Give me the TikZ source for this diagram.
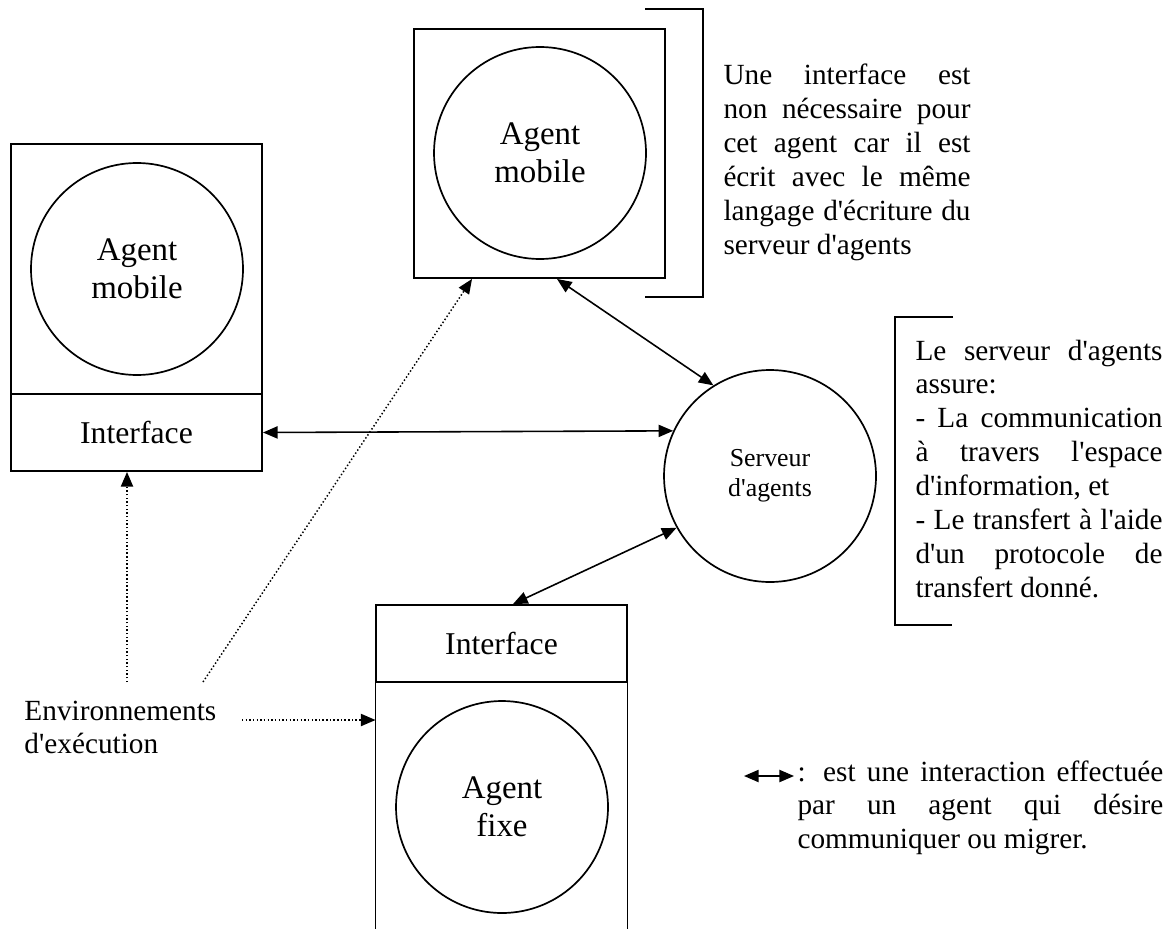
\documentclass[tikz,border=0pt]{standalone}
\usepackage{fontspec}
\setmainfont{Liberation Serif}[Ligatures=TeXOff]
\usetikzlibrary{arrows.meta,calc}
\begin{document}
\begin{tikzpicture}[x=0.41pt,y=-0.41pt,
  tip/.tip={Triangle[length=6pt,width=5pt]},
  box/.style={draw, line width=0.8pt, minimum width=102.91pt, inner sep=0pt, font=\fontsize{13}{15}\selectfont},
  agent/.style={draw, circle, line width=0.7pt, minimum size=86.92pt, inner sep=0pt, align=center, font=\fontsize{13.5}{15.6}\selectfont},
  serveur/.style={agent, font=\fontsize{10.6}{12.3}\selectfont},
  conn/.style={line width=0.65pt, tip-tip},
  dot/.style={line width=0.6pt, dash pattern=on 0.6pt off 0.9pt, -tip},
  txt/.style={inner sep=0pt, font=\fontsize{12}{13.9}\selectfont},
  note/.style={txt, align=justify},
  bracket/.style={line width=0.8pt}]
\useasboundingbox (0,0) rectangle (1175,928);

% left execution environment
\node[box, minimum height=102.5pt] (lupper) at (136.5,269) {};
\node[box, minimum height=31.57pt] (linter) at (136.5,432.5) {Interface};
\node[agent] (lcirc) at (137,269) {Agent\\mobile};

% top execution environment
\node[box, minimum height=102.09pt] (tbox) at (539.5,153.5) {};
\node[agent] (tcirc) at (540,153) {Agent\\mobile};

% agent server
\node[serveur] (serv) at (770,476) {Serveur\\d'agents};

% fixed agent environment
\node[box, minimum height=31.57pt] (fint) at (501.5,643.5) {Interface};
\node[minimum width=102.91pt, minimum height=100.86pt, inner sep=0pt] (fbody) at (501.5,805) {};
\draw[line width=0.8pt] (fbody.north west) -- (fbody.south west) (fbody.north east) -- (fbody.south east);
\node[agent] (fcirc) at (502,807) {Agent\\fixe};

% brackets
\draw[bracket] (645,9) -- (703,9) -- (703,297) -- (645,297);
\draw[bracket] (953,317) -- (895,317) -- (895,625) -- (952,625);

% notes
\node[note, text width=101.3pt, anchor=base west] (note1) at (723,85) {\tolerance=10000 Une interface est\linebreak non nécessaire pour\linebreak cet agent car il est\linebreak écrit avec le même\linebreak langage d'écriture du\linebreak serveur d'agents};
\node[note, text width=101.3pt, anchor=base west] (note2) at (915,360) {\tolerance=10000 Le serveur d'agents\linebreak assure:\\- La communication\linebreak à travers l'espace\linebreak d'information, et\\- Le transfert à l'aide\linebreak d'un protocole de\linebreak transfert donné.};

\node[txt, text width=90pt, align=left, anchor=base west] (env) at (24,720) {Environnements\\d'exécution};

% legend
\coordinate (la) at (744,776);
\coordinate (lb) at (794,776);
\draw[conn] (la) -- (lb);
\node[note, text width=150pt, anchor=base west] (leg) at (797,781) {\tolerance=10000 : est une interaction effectuée\linebreak par un agent qui désire\linebreak communiquer ou migrer.};

% interactions
\draw[conn] ($(tbox.south)+(17.5,0)$) -- (serv.122.6);
\draw[conn] (linter.east) -- (serv.155.4);
\draw[conn] ($(fint.north)+(11.5,0)$) -- (serv.209.5);

% execution environment pointers
\coordinate (e1) at (127,682);
\coordinate (e2) at (203,682);
\coordinate (e3) at (242,720);
\draw[dot] (e1) -- (e1 |- linter.south);
\draw[dot] (e2) -- ($(tbox.south)+(-67.5,0)$);
\draw[dot] (e3) -- (e3 -| fbody.west);
\end{tikzpicture}
\end{document}
